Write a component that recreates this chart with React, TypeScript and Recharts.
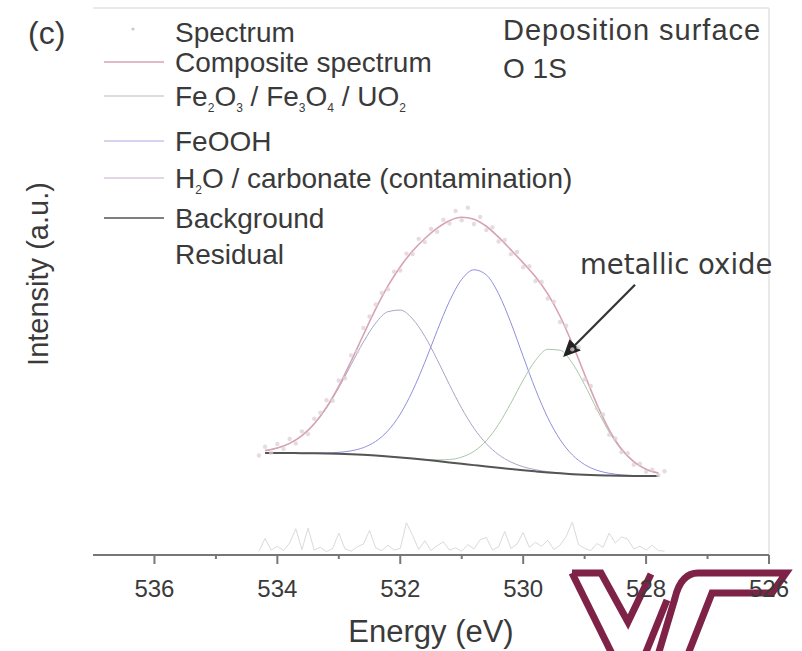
import React from "react";
import {
  ComposedChart,
  Line,
  XAxis,
  YAxis,
  Legend,
  ReferenceLine,
} from "recharts";

// O 1s fit, binding energy grid (eV)
const energy = [
  534.2, 534.0, 533.8, 533.6, 533.4, 533.2, 533.0, 532.8, 532.6, 532.4, 532.2,
  532.0, 531.8, 531.6, 531.4, 531.2, 531.0, 530.8, 530.6, 530.4, 530.2, 530.0,
  529.8, 529.6, 529.4, 529.2, 529.0, 528.8, 528.6, 528.4, 528.2, 528.0, 527.8,
];
// Shirley background
const background = [
  18.65, 18.64, 18.64, 18.62, 18.6, 18.56, 18.5, 18.42, 18.31, 18.18, 18.01,
  17.83, 17.63, 17.41, 17.18, 16.93, 16.68, 16.43, 16.18, 15.94, 15.71, 15.49,
  15.29, 15.1, 14.93, 14.78, 14.66, 14.57, 14.52, 14.48, 14.46, 14.45, 14.44,
];
// H2O / carbonate component (~532.0 eV)
const h2oCarbonate = [
  19.09, 19.56, 20.41, 21.81, 23.95, 26.9, 30.6, 34.8, 38.94, 42.4, 44.48,
  44.77, 43.17, 39.96, 35.73, 31.14, 26.81, 23.16, 20.35, 18.34, 17.0, 16.13,
  15.59, 15.23, 14.98, 14.8, 14.66, 14.57, 14.52, 14.48, 14.46, 14.45, 14.44,
];
// FeOOH component (~530.8 eV)
const feooh = [
  18.65, 18.64, 18.64, 18.63, 18.64, 18.67, 18.77, 19.04, 19.63, 20.77, 22.72,
  25.76, 30.0, 35.24, 41.0, 46.38, 50.39, 52.14, 51.21, 47.75, 42.45, 36.3,
  30.29, 25.1, 21.1, 18.31, 16.53, 15.49, 14.94, 14.65, 14.53, 14.47, 14.45,
];
// Fe2O3 / Fe3O4 / UO2 lattice oxygen (~529.5 eV)
const metalOxide = [
  18.65, 18.64, 18.64, 18.62, 18.6, 18.56, 18.5, 18.42, 18.31, 18.18, 18.01,
  17.84, 17.65, 17.48, 17.39, 17.46, 17.9, 18.96, 20.9, 23.89, 27.76, 31.96,
  35.57, 37.6, 37.43, 35.06, 31.13, 26.62, 22.47, 19.2, 16.99, 15.67, 14.97,
];
const composite = [
  19.09, 19.56, 20.41, 21.83, 23.99, 27.01, 30.87, 35.42, 40.26, 44.99, 49.19,
  52.71, 55.56, 57.86, 59.76, 61.12, 61.74, 61.4, 60.1, 58.1, 55.79, 53.41,
  50.87, 47.73, 43.65, 38.61, 33.0, 27.54, 22.89, 19.37, 17.06, 15.69, 14.98,
];

// measured channels
const spectrumEnergy = [
  534.3, 534.2, 534.1, 534.0, 533.9, 533.8, 533.7, 533.6, 533.5, 533.4, 533.3,
  533.2, 533.1, 533.0, 532.9, 532.8, 532.7, 532.6, 532.5, 532.4, 532.3, 532.2,
  532.1, 532.0, 531.9, 531.8, 531.7, 531.6, 531.5, 531.4, 531.3, 531.2, 531.1,
  531.0, 530.9, 530.8, 530.7, 530.6, 530.5, 530.4, 530.3, 530.2, 530.1, 530.0,
  529.9, 529.8, 529.7, 529.6, 529.5, 529.4, 529.3, 529.2, 529.1, 529.0, 528.9,
  528.8, 528.7, 528.6, 528.5, 528.4, 528.3, 528.2, 528.1, 528.0, 527.9, 527.8,
  527.7,
];
const spectrum = [
  18.2, 19.8, 18.7, 20.3, 19.4, 21.2, 20.4, 22.6, 22.1, 24.9, 26.0,
  28.3, 28.2, 31.9, 32.3, 36.5, 37.2, 41.5, 43.6, 45.8, 47.9, 48.6,
  51.8, 52.0, 55.1, 55.0, 57.8, 57.2, 59.6, 59.1, 61.3, 60.6, 62.9,
  61.2, 63.5, 60.5, 61.8, 59.4, 59.9, 57.3, 57.6, 55.0, 55.4, 52.6,
  52.8, 50.1, 49.9, 46.9, 46.3, 42.6, 41.9, 37.6, 38.0, 32.1, 30.9,
  26.8, 25.7, 22.0, 21.3, 18.8, 18.6, 16.5, 16.7, 15.2, 15.6, 14.6,
  15.3,
];
const residual = [
  0.7, 3.0, 0.9, 1.6, 0.8, 2.2, 4.8, 1.0, 4.9, 0.9, 1.4,
  0.6, 1.2, 4.0, 1.1, 0.7, 1.5, 2.0, 4.5, 1.3, 0.8, 1.8,
  0.9, 1.2, 5.9, 3.6, 1.0, 2.6, 0.8, 1.7, 2.4, 0.9, 1.3,
  0.7, 1.9, 1.1, 2.8, 3.2, 0.9, 1.5, 4.3, 1.2, 2.0, 4.1,
  1.4, 2.3, 1.6, 2.7, 1.0, 1.8, 3.4, 6.0, 1.9, 1.2, 0.8,
  2.1, 1.4, 4.0, 2.2, 3.3, 2.9, 1.1, 1.6, 0.9, 1.8, 0.8,
  0.7,
];

const energyTicks = [536, 535, 534, 533, 532, 531, 530, 529, 528, 527, 526];

// arrow pointing at the lattice-oxide peak
const arrowTail = { x: 528.18, y: 49.4 };
const arrowTip = { x: 529.35, y: 36.2 };

const fitData = energy.map((e, i) => ({
  energy: e,
  background: background[i],
  h2o: h2oCarbonate[i],
  feooh: feooh[i],
  oxide: metalOxide[i],
  composite: composite[i],
}));

const rawData = spectrumEnergy.map((e, i) => ({
  energy: e,
  spectrum: spectrum[i],
  residual: residual[i],
}));

const FONT = "'Liberation Sans', Arial, sans-serif";
const TEXT = "#3a3a3a";

const COLORS = {
  spectrum: "#ddd0d4",
  composite: "#d8a2b5",
  oxide: "#a9c6aa",
  feooh: "#8f8fdc",
  h2o: "#a7a6c8",
  background: "#555555",
  residual: "#dadada",
};

function EnergyTick(props: any) {
  const { x, y, payload } = props;
  const major = payload.value % 2 === 0;
  return (
    <g>
      <line
        x1={x}
        y1={y}
        x2={x}
        y2={y + (major ? 9 : 4)}
        stroke="#777"
        strokeWidth={2}
      />
      {major && (
        <text
          x={x}
          y={y + 42}
          textAnchor="middle"
          fontSize={24}
          fontFamily={FONT}
          fill={TEXT}
        >
          {payload.value}
        </text>
      )}
    </g>
  );
}

function Arrow(props: any) {
  const { x1, y1, x2, y2 } = props;
  const ang = Math.atan2(y2 - y1, x2 - x1);
  const len = 17;
  const half = 8;
  const bx = x2 - len * Math.cos(ang);
  const by = y2 - len * Math.sin(ang);
  const px = -Math.sin(ang) * half;
  const py = Math.cos(ang) * half;
  return (
    <g>
      <line x1={x1} y1={y1} x2={bx} y2={by} stroke="#333" strokeWidth={2.2} />
      <polygon
        points={`${x2},${y2} ${bx + px},${by + py} ${bx - px},${by - py}`}
        fill="#222"
      />
    </g>
  );
}

// legend rows: sample + label
function FitLegend() {
  const rows: { y: number; color?: string; dot?: boolean; label: React.ReactNode }[] = [
    { y: 32, dot: true, color: "#c9c9c9", label: "Spectrum" },
    { y: 62, color: COLORS.composite, label: "Composite spectrum" },
    {
      y: 96,
      color: "#d7cdd3",
      label: (
        <>
          Fe<tspan fontSize={12} dy={6}>2</tspan>
          <tspan dy={-6}>O</tspan>
          <tspan fontSize={12} dy={6}>3</tspan>
          <tspan dy={-6}> / Fe</tspan>
          <tspan fontSize={12} dy={6}>3</tspan>
          <tspan dy={-6}>O</tspan>
          <tspan fontSize={12} dy={6}>4</tspan>
          <tspan dy={-6}> / UO</tspan>
          <tspan fontSize={12} dy={6}>2</tspan>
        </>
      ),
    },
    { y: 141, color: "#c6c6ea", label: "FeOOH" },
    {
      y: 178,
      color: "#d9c9df",
      label: (
        <>
          H<tspan fontSize={12} dy={6}>2</tspan>
          <tspan dy={-6}>O / carbonate (contamination)</tspan>
        </>
      ),
    },
    { y: 218, color: COLORS.background, label: "Background" },
    { y: 254, label: "Residual" },
  ];
  return (
    <svg width={600} height={280} style={{ display: "block" }}>
      {rows.map((r, i) => (
        <g key={i}>
          {r.dot ? (
            <circle cx={133} cy={r.y - 3} r={1.6} fill={r.color} />
          ) : r.color ? (
            <line
              x1={104}
              x2={164}
              y1={r.y}
              y2={r.y}
              stroke={r.color}
              strokeWidth={1.3}
            />
          ) : null}
          <text
            x={175}
            y={r.y + 10}
            fontSize={28}
            fontFamily={FONT}
            fill={TEXT}
          >
            {r.label}
          </text>
        </g>
      ))}
    </svg>
  );
}

function Logo() {
  return (
    <svg
      width={802}
      height={651}
      style={{ position: "absolute", left: 0, top: 0, zIndex: 0 }}
    >
      <g
        fill="none"
        stroke="#7e2347"
        strokeWidth={7}
        strokeLinejoin="miter"
      >
        <path d="M572 573 L621 672" />
        <path d="M572 573 H601 L628 622 L651 574" />
        <path d="M638 672 L667 600" />
        <path d="M653 672 L675 598 Q681 573 698 573 H786 L772 593 H712 L681 672" />
      </g>
    </svg>
  );
}

export default function App() {
  return (
    <div
      style={{
        position: "absolute",
        left: 0,
        top: 0,
        width: 802,
        height: 651,
        background: "#fff",
      }}
    >
      <Logo />
      <div style={{ position: "absolute", left: 0, top: 0, zIndex: 1 }}>
        <ComposedChart
          width={802}
          height={651}
          margin={{ top: 8, right: 33, bottom: 36, left: 93 }}
        >
          <XAxis
            dataKey="energy"
            type="number"
            domain={[526, 537]}
            reversed
            allowDataOverflow
            ticks={energyTicks}
            interval={0}
            height={60}
            tickSize={0}
            tickMargin={0}
            tickLine={false}
            axisLine={{ stroke: "#777", strokeWidth: 2 }}
            tick={<EnergyTick />}
          />
          <YAxis
            type="number"
            domain={[0, 100]}
            width={0}
            tick={false}
            tickLine={false}
            axisLine={{ stroke: "#555", strokeWidth: 1.5 }}
          />
          <ReferenceLine y={100} stroke="#e2e2e2" strokeWidth={1.5} />
          <ReferenceLine x={526} stroke="#e2e2e2" strokeWidth={1.5} />

          <Line
            data={rawData}
            dataKey="residual"
            type="linear"
            stroke={COLORS.residual}
            strokeWidth={1}
            dot={false}
            activeDot={false}
            isAnimationActive={false}
          />
          <Line
            data={fitData}
            dataKey="h2o"
            type="monotone"
            stroke={COLORS.h2o}
            strokeWidth={1}
            dot={false}
            activeDot={false}
            isAnimationActive={false}
          />
          <Line
            data={fitData}
            dataKey="feooh"
            type="monotone"
            stroke={COLORS.feooh}
            strokeWidth={1}
            dot={false}
            activeDot={false}
            isAnimationActive={false}
          />
          <Line
            data={fitData}
            dataKey="oxide"
            type="monotone"
            stroke={COLORS.oxide}
            strokeWidth={1}
            dot={false}
            activeDot={false}
            isAnimationActive={false}
          />
          <Line
            data={fitData}
            dataKey="background"
            type="monotone"
            stroke={COLORS.background}
            strokeWidth={2}
            dot={false}
            activeDot={false}
            isAnimationActive={false}
          />
          <Line
            data={fitData}
            dataKey="composite"
            type="monotone"
            stroke={COLORS.composite}
            strokeWidth={1.6}
            dot={false}
            activeDot={false}
            isAnimationActive={false}
          />
          <Line
            data={rawData}
            dataKey="spectrum"
            type="linear"
            stroke="none"
            dot={{ r: 2.2, fill: COLORS.spectrum, stroke: "none", fillOpacity: 0.75 }}
            activeDot={false}
            isAnimationActive={false}
          />
          <ReferenceLine
            segment={[arrowTail, arrowTip]}
            stroke="#333"
            shape={(p: any) => <Arrow {...p} />}
          />
          <Legend
            layout="vertical"
            align="center"
            verticalAlign="middle"
            wrapperStyle={{ left: 0, top: 0, width: 600 }}
            content={() => <FitLegend />}
          />
        </ComposedChart>
      </div>
      <svg
        width={802}
        height={651}
        style={{ position: "absolute", left: 0, top: 0, zIndex: 2, pointerEvents: "none" }}
        fontFamily={FONT}
        fill={TEXT}
      >
        <text x={28} y={44} fontSize={32}>
          (c)
        </text>
        <text x={503} y={40} fontSize={29} letterSpacing={1}>
          Deposition surface
        </text>
        <text x={503} y={78} fontSize={28}>
          O 1S
        </text>
        <text
          x={580}
          y={274}
          fontSize={27.5}
          fontFamily="'DejaVu Sans', sans-serif"
        >
          metallic oxide
        </text>
        <text
          x={48}
          y={274}
          fontSize={29}
          textAnchor="middle"
          transform="rotate(-90 48 274)"
        >
          Intensity (a.u.)
        </text>
        <text x={431} y={642} fontSize={31} textAnchor="middle">
          Energy (eV)
        </text>
      </svg>
    </div>
  );
}
